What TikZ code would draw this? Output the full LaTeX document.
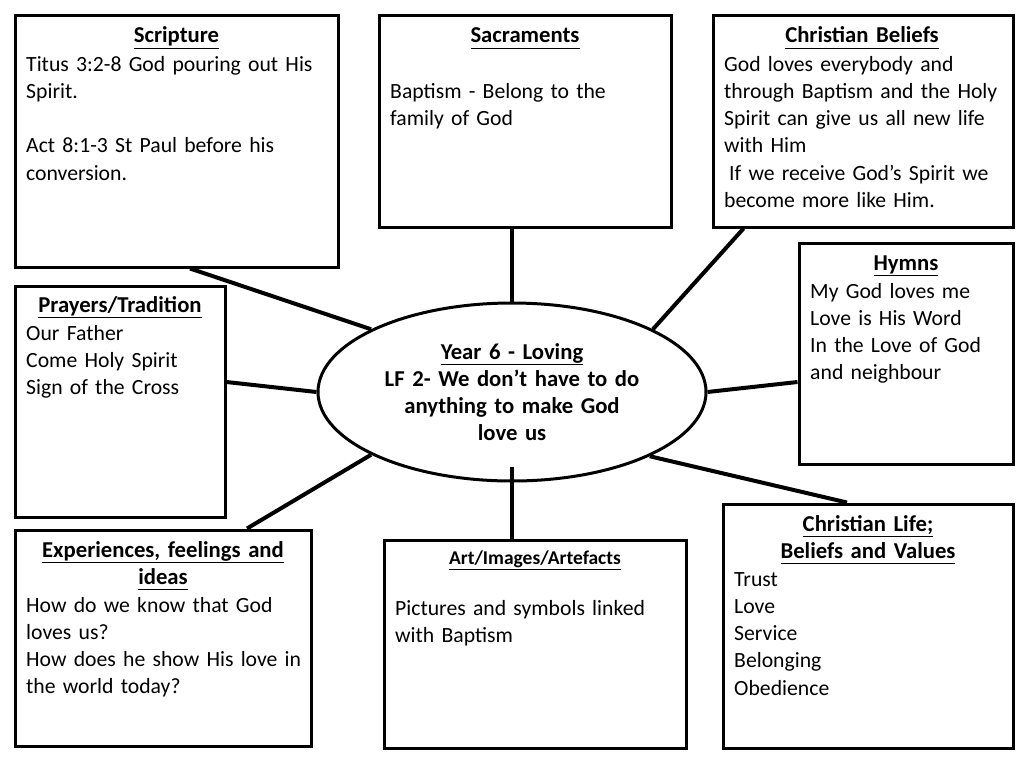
\documentclass[tikz,border=0pt]{standalone}
\usepackage{fontspec}
\setmainfont{Carlito}
\usetikzlibrary{shapes.geometric}
\newcommand{\ttlu}[1]{\underline{#1\vphantom{gp}}}
\begin{document}
\begin{tikzpicture}[x=1pt,y=-1pt,
  box/.style={draw, line width=3pt, fill=white, rectangle, inner sep=0pt},
  link/.style={line width=4pt},
  body/.style={anchor=base west, inner sep=0pt, align=left, text width=420pt,
    font=\fontsize{21.7}{27.3}\selectfont},
  ttl/.style={anchor=base, inner sep=0pt, align=center, text width=#1,
    font=\fontsize{22.7}{27.3}\selectfont\bfseries},
]
\useasboundingbox[fill=white] (0,0) rectangle (1024,768);

% boxes
\node[box, minimum width=323pt, minimum height=251pt] (scr) at (176.5,141.5) {};
\node[box, minimum width=292pt, minimum height=211pt] (sac) at (525,121.5) {};
\node[box, minimum width=300pt, minimum height=211pt] (bel) at (863,121.5) {};
\node[box, minimum width=214pt, minimum height=221pt] (hym) at (906,353.5) {};
\node[box, minimum width=210pt, minimum height=231pt] (pra) at (120,401.5) {};
\node[box, minimum width=296pt, minimum height=216pt] (exp) at (163,638) {};
\node[box, minimum width=302pt, minimum height=208pt] (art) at (535,644) {};
\node[box, minimum width=290pt, minimum height=244pt] (lif) at (868,626) {};
\node[draw, ellipse, line width=3pt, fill=white, inner sep=0pt,
  minimum width=388pt, minimum height=178pt] (core) at (512,392) {};

% connectors
\draw[link] ([xshift=13.5pt]scr.south) -- (core.156);
\draw[link] ([xshift=-13pt]sac.south) -- (core.north);
\draw[link] ([xshift=32pt]bel.south west) -- (core.24.5);
\draw[link] ([yshift=-28.5pt]hym.west) -- (core.east);
\draw[link] ([yshift=19.5pt]pra.east) -- (core.west);
\draw[link] ([xshift=84pt]exp.north) -- (core.204);
\draw[link] ([xshift=-23pt]art.north) -- ([yshift=16pt]core.south);
\draw[link] ([xshift=-21pt]lif.north) -- (core.335.5);

% texts
\node[ttl=300pt] (scrT) at (176.5,43) {\ttlu{Scripture}};
\node[body] (scrB) at (26,71) {Titus 3:2-8 God pouring out His\\Spirit.\\[27.3pt]Act 8:1-3 St Paul before his\\conversion.};

\node[ttl=280pt] (sacT) at (525,43) {\ttlu{Sacraments}};
\node[body] (sacB) at (390,98) {Baptism - Belong to the\\family of God};

\node[ttl=290pt] (belT) at (862,43) {\ttlu{Christian Beliefs}};
\node[body] (belB) at (724,71) {God loves everybody and\\through Baptism and the Holy\\Spirit can give us all new life\\with Him\\\hspace*{5pt}If we receive God’s Spirit we\\become more like Him.};

\node[ttl=200pt] (hymT) at (906,270) {\ttlu{Hymns}};
\node[body] (hymB) at (810,298) {My God loves me\\Love is His Word\\In the Love of God\\and neighbour};

\node[ttl=200pt] (praT) at (120,312) {\ttlu{Prayers/Tradition}};
\node[body] (praB) at (26,340) {Our Father\\Come Holy Spirit\\Sign of the Cross};

\node[ttl=300pt] (coreT) at (512,359) {\ttlu{Year 6 - Loving}\\LF 2- We don’t have to do\\anything to make God\\love us};

\node[ttl=285pt] (expT) at (163,557) {\ttlu{Experiences, feelings and}\\\ttlu{ideas}};
\node[body] (expB) at (26,612) {How do we know that God\\loves us?\\How does he show His love in\\the world today?};

\node[anchor=base, inner sep=0pt, font=\fontsize{19.5}{22}\selectfont\bfseries] (artT) at (535,564) {\ttlu{Art/Images/Artefacts}};
\node[body] (artB) at (395,615) {Pictures and symbols linked\\with Baptism};

\node[ttl=280pt] (lifT) at (868,531) {\ttlu{Christian Life;}\\\ttlu{Beliefs and Values}};
\node[body] (lifB) at (734,586) {Trust\\Love\\Service\\Belonging\\Obedience};
\end{tikzpicture}
\end{document}
